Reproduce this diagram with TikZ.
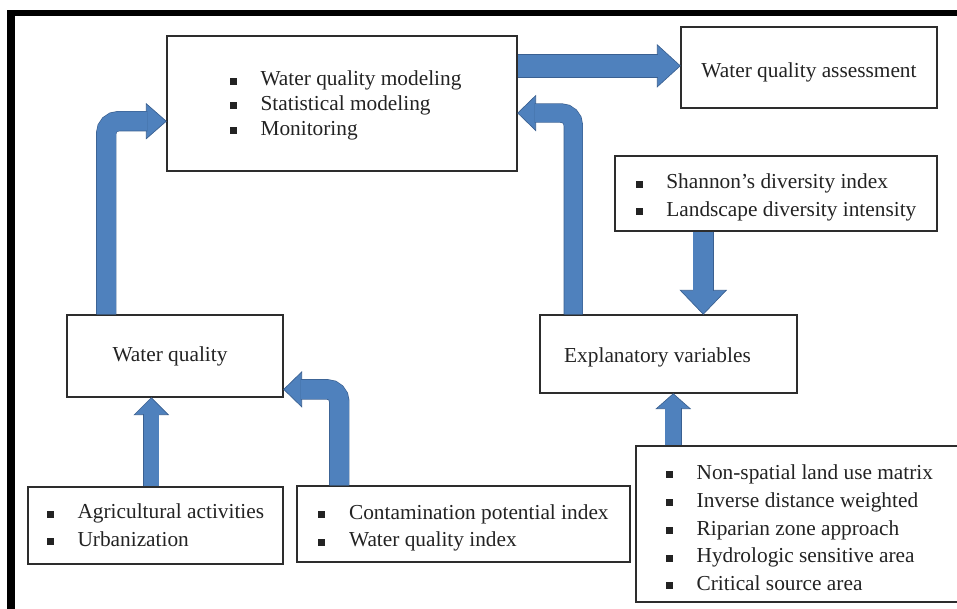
\documentclass[tikz,border=0pt]{standalone}
\usepackage{fontspec}
\setmainfont{Liberation Serif}
\usetikzlibrary{calc}
\definecolor{ablue}{RGB}{79,129,189}
\definecolor{adark}{RGB}{58,96,145}
\definecolor{boxc}{RGB}{45,45,45}
\definecolor{txt}{RGB}{35,35,35}
\newcommand\itm[1]{\makebox[23pt][l]{\raisebox{1pt}{\rule{5.2pt}{5.2pt}}}#1}
\newcommand\up[1]{\rule{0pt}{#1}}
\begin{document}
\begin{tikzpicture}[x=0.75pt,y=-0.75pt,
  box/.style={draw=boxc,line width=1.1pt,fill=white,inner sep=0pt,text=txt,align=left,
    font=\fontsize{16}{20.8}\selectfont},
  shaft/.style={draw=adark,line width=0.5pt,double=ablue,double distance=#1,rounded corners=9pt},
  head/.style={fill=ablue,draw=adark,line width=0.5pt,line join=miter}]
\useasboundingbox (0,0) rectangle (957,609);
\clip (0,0) rectangle (957,609);
\fill[black] (7,10) rectangle (957,16);
\fill[black] (7,10) rectangle (15,609);

\node[box,minimum width=262.5pt,minimum height=101.25pt,font=\fontsize{16}{18.4}\selectfont] (main) at (342,103.5)
  {\up{14pt}\hspace*{5.5pt}\itm{Water quality modeling}\\\hspace*{5.5pt}\itm{Statistical modeling}\\\hspace*{5.5pt}\itm{Monitoring}};
\node[box,minimum width=192pt,minimum height=60.75pt] (assess) at (809,67.5) {\up{18pt}Water quality assessment};
\node[box,minimum width=241.5pt,minimum height=56.25pt] (shannon) at (776,193.5)
  {\up{17.5pt}\itm{Shannon’s diversity index}\\\itm{Landscape diversity intensity}};
\node[box,minimum width=162pt,minimum height=61.5pt] (wq) at (175,356) {Water quality\hspace{7.5pt}};
\node[box,minimum width=192.75pt,minimum height=58.5pt] (expl) at (668.5,354) {\up{16.5pt}Explanatory variables\hspace{16.5pt}};
\node[box,minimum width=191.25pt,minimum height=57.75pt] (agri) at (155.5,525.5)
  {\itm{Agricultural activities}\\\itm{Urbanization}};
\node[box,minimum width=249.75pt,minimum height=57pt] (contam) at (463.5,524)
  {\up{17pt}\itm{Contamination potential index}\\\itm{Water quality index}};
\node[box,minimum width=245.25pt,minimum height=117pt] (nonsp) at (799.5,524)
  {\up{17pt}\itm{Non-spatial land use matrix}\\\itm{Inverse distance weighted}\\\itm{Riparian zone approach}\\\itm{Hydrologic sensitive area}\\\itm{Critical source area}};

% arrow 1: water quality -> main
\coordinate (s1) at ($(wq.north west)+(40,0)$);
\coordinate (t1) at ($(main.north west)!0.63!(main.south west)$);
\draw[head] ($(t1)+(-20,-17.5)$) -- (t1) -- ($(t1)+(-20,17.5)$) -- cycle;
\draw[shaft=14.25pt] (s1) |- ($(t1)+(-19,0)$);

% arrow 2: main -> assessment
\coordinate (t2) at ($(assess.north west)!0.48!(assess.south west)$);
\coordinate (s2) at (main.east |- t2);
\draw[head] ($(t2)+(-23,-21)$) -- (t2) -- ($(t2)+(-23,21)$) -- cycle;
\draw[shaft=16.5pt] (s2) -- ($(t2)+(-22,0)$);

% arrow 3: explanatory -> main
\coordinate (s3) at ($(expl.north west)+(34,0)$);
\coordinate (t3) at ($(main.north east)!0.57!(main.south east)$);
\draw[head] ($(t3)+(18,-17.5)$) -- (t3) -- ($(t3)+(18,17.5)$) -- cycle;
\draw[shaft=13.5pt] (s3) |- ($(t3)+(17,0)$);

% arrow 4: shannon -> explanatory
\coordinate (s4) at ($(shannon.south west)+(89,0)$);
\coordinate (t4) at (s4 |- expl.north);
\draw[head] ($(t4)+(-23,-24)$) -- (t4) -- ($(t4)+(23,-24)$) -- cycle;
\draw[shaft=15pt] (s4) -- ($(t4)+(0,-23)$);

% arrow 5: agricultural -> water quality
\coordinate (s5) at ($(agri.north west)+(124,0)$);
\coordinate (t5) at (s5 |- wq.south);
\draw[head] ($(t5)+(-17,17)$) -- (t5) -- ($(t5)+(17,17)$) -- cycle;
\draw[shaft=11.25pt] (s5) -- ($(t5)+(0,16)$);

% arrow 6: contamination -> water quality
\coordinate (s6) at ($(contam.north west)+(43,0)$);
\coordinate (t6) at ($(wq.north east)!0.9!(wq.south east)$);
\draw[head] ($(t6)+(18,-17.5)$) -- (t6) -- ($(t6)+(18,17.5)$) -- cycle;
\draw[shaft=14.25pt] (s6) |- ($(t6)+(17,0)$);

% arrow 7: non-spatial -> explanatory
\coordinate (s7) at ($(nonsp.north west)+(38,0)$);
\coordinate (t7) at (s7 |- expl.south);
\draw[head] ($(t7)+(-17,15)$) -- (t7) -- ($(t7)+(17,15)$) -- cycle;
\draw[shaft=12pt] (s7) -- ($(t7)+(0,14)$);
\end{tikzpicture}
\end{document}
